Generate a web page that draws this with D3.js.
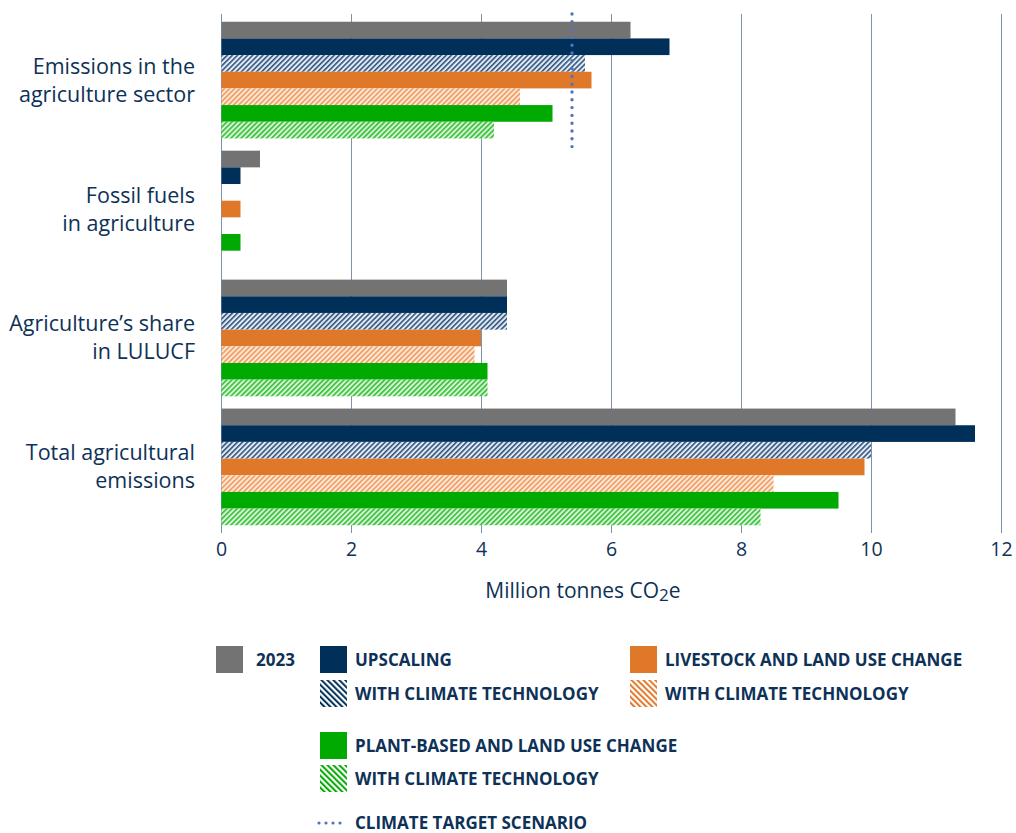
<!DOCTYPE html>
<html>
<head>
<meta charset="utf-8">
<script src="https://cdn.jsdelivr.net/npm/d3@7"></script>
<style>
  html, body { margin: 0; padding: 0; background: #fff; }
  svg { display: block; }
  .cat { font-family: "Open Sans", "Noto Sans", sans-serif; font-size: 21.5px; fill: #0e3157; }
  .tick text { font-family: "Open Sans", "Noto Sans", sans-serif; font-size: 19.5px; fill: #0e3157; }
  .title { font-family: "Open Sans", "Noto Sans", sans-serif; font-size: 21px; fill: #0e3157; }
  .leg { font-family: "Open Sans", "Noto Sans", sans-serif; font-size: 17px; font-weight: 700; fill: #0e3157; }
</style>
</head>
<body>
<svg id="chart" width="1016" height="833"></svg>
<script>
// Emission categories (top to bottom)
const categories = [
  ["Emissions in the", "agriculture sector"],
  ["Fossil fuels", "in agriculture"],
  ["Agriculture\u2019s share", "in LULUCF"],
  ["Total agricultural", "emissions"]
];

// Series, in drawing order inside each category
const seriesKeys = ["y2023", "upscaling", "upscalingTech", "livestock", "livestockTech", "plant", "plantTech"];

const y2023         = [6.3, 0.6, 4.4, 11.3];
const upscaling     = [6.9, 0.3, 4.4, 11.6];
const upscalingTech = [5.6, 0.0, 4.4, 10.0];
const livestock     = [5.7, 0.3, 4.0, 9.9];
const livestockTech = [4.6, 0.0, 3.9, 8.5];
const plant         = [5.1, 0.3, 4.1, 9.5];
const plantTech     = [4.2, 0.0, 4.1, 8.3];

// Climate target scenario for the agriculture sector
const climateTarget = 5.4;

const xTicks = [0, 2, 4, 6, 8, 10, 12];

const values = { y2023, upscaling, upscalingTech, livestock, livestockTech, plant, plantTech };

const colors = {
  gray: "#737373",
  navy: "#00305a",
  orange: "#e07829",
  green: "#00aa00",
  text: "#0e3157",
  grid: "#7d93ad",
  dot: "#5274bd"
};

const style = {
  y2023:         { fill: colors.gray },
  upscaling:     { fill: colors.navy },
  upscalingTech: { pattern: "hatch-navy" },
  livestock:     { fill: colors.orange },
  livestockTech: { pattern: "hatch-orange" },
  plant:         { fill: colors.green },
  plantTech:     { pattern: "hatch-green" }
};

const svg = d3.select("#chart");
const defs = svg.append("defs");

// fine "/" hatching used inside the bars
function barHatch(id, color, bg) {
  const p = defs.append("pattern")
    .attr("id", id).attr("patternUnits", "userSpaceOnUse")
    .attr("width", 3.6).attr("height", 3.6)
    .attr("patternTransform", "rotate(45)");
  p.append("rect").attr("width", 3.6).attr("height", 3.6).attr("fill", bg);
  p.append("rect").attr("x", 0).attr("y", 0).attr("width", 1.6).attr("height", 3.6).attr("fill", color);
}
// coarser "\" hatching used in the legend swatches
function legHatch(id, color) {
  const p = defs.append("pattern")
    .attr("id", id).attr("patternUnits", "userSpaceOnUse")
    .attr("width", 4.2).attr("height", 4.2)
    .attr("patternTransform", "rotate(-45)");
  p.append("rect").attr("width", 4.2).attr("height", 4.2).attr("fill", "#fff");
  p.append("rect").attr("x", 0).attr("y", 0).attr("width", 2).attr("height", 4.2).attr("fill", color);
}
barHatch("hatch-navy", "#2e5582", "#e6ebf1");
barHatch("hatch-orange", "#f09a5c", "#fde9da");
barHatch("hatch-green", "#33c133", "#d8f2d8");
legHatch("leg-navy", colors.navy);
legHatch("leg-orange", colors.orange);
legHatch("leg-green", colors.green);

const x = d3.scaleLinear().domain([0, 12]).range([221, 1001]);

const y0 = d3.scaleBand()
  .domain(d3.range(categories.length))
  .range([14, 533])
  .paddingInner(0.095)
  .paddingOuter(0.06);

const y1 = d3.scaleBand()
  .domain(seriesKeys)
  .range([0, y0.bandwidth()]);

// gridlines and tick labels
const axis = d3.axisBottom(x).tickValues(xTicks).tickSize(0).tickPadding(12).tickFormat(d3.format("d"));
const gx = svg.append("g").attr("transform", "translate(0,530)");
gx.call(axis);
gx.select(".domain").remove();
gx.selectAll(".tick text").attr("dy", "0.71em");

svg.append("g").selectAll("line")
  .data(xTicks)
  .join("line")
  .attr("x1", d => Math.round(x(d)) + 0.5).attr("x2", d => Math.round(x(d)) + 0.5)
  .attr("y1", 14).attr("y2", 533)
  .attr("stroke", colors.grid).attr("stroke-width", 1);

// bars
const groups = svg.append("g").selectAll("g")
  .data(categories)
  .join("g")
  .attr("transform", (d, i) => `translate(0,${y0(i)})`);

groups.each(function(cat, i) {
  d3.select(this).selectAll("rect")
    .data(seriesKeys.filter(k => values[k][i] > 0))
    .join("rect")
    .attr("x", x(0) + 0.5)
    .attr("y", k => y1(k))
    .attr("width", k => x(values[k][i]) - x(0) - 0.5)
    .attr("height", y1.bandwidth())
    .attr("fill", k => style[k].pattern ? `url(#${style[k].pattern})` : style[k].fill);
});

// climate target marker across the first category
svg.append("line")
  .attr("x1", x(climateTarget)).attr("x2", x(climateTarget))
  .attr("y1", 14).attr("y2", y0(0) + y0.bandwidth() + 10)
  .attr("stroke", colors.dot)
  .attr("stroke-width", 3.4)
  .attr("stroke-linecap", "round")
  .attr("stroke-dasharray", "0 7.8");

// category labels
const catLabels = svg.append("g").selectAll("text")
  .data(categories)
  .join("text")
  .attr("class", "cat")
  .attr("text-anchor", "end")
  .attr("x", 195)
  .attr("y", (d, i) => y0(i) + y0.bandwidth() / 2 - 14);
catLabels.selectAll("tspan")
  .data(d => d)
  .join("tspan")
  .attr("x", 195)
  .attr("dy", (d, j) => j === 0 ? "0.35em" : 28)
  .text(d => d);

// axis title
const title = svg.append("text")
  .attr("class", "title")
  .attr("text-anchor", "middle")
  .attr("x", 583).attr("y", 598);
title.append("tspan").text("Million tonnes CO");
title.append("tspan").attr("font-size", 17).attr("dy", 3).text("2");
title.append("tspan").attr("dy", -3).text("e");

// legend
const legendItems = [
  { label: "2023", fill: colors.gray, x: 216, y: 646 },
  { label: "UPSCALING", fill: colors.navy, x: 320, y: 646 },
  { label: "WITH CLIMATE TECHNOLOGY", fill: "url(#leg-navy)", x: 320, y: 680 },
  { label: "LIVESTOCK AND LAND USE CHANGE", fill: colors.orange, x: 630, y: 646 },
  { label: "WITH CLIMATE TECHNOLOGY", fill: "url(#leg-orange)", x: 630, y: 680 },
  { label: "PLANT-BASED AND LAND USE CHANGE", fill: colors.green, x: 320, y: 732 },
  { label: "WITH CLIMATE TECHNOLOGY", fill: "url(#leg-green)", x: 320, y: 765 }
];

const lg = svg.append("g");
const li = lg.selectAll("g")
  .data(legendItems)
  .join("g")
  .attr("transform", d => `translate(${d.x},${d.y})`);
li.append("rect").attr("width", 27).attr("height", 27).attr("fill", d => d.fill);
li.append("text")
  .attr("class", "leg")
  .attr("x", d => d.label === "2023" ? 40 : 35)
  .attr("y", 14)
  .attr("dy", "0.35em")
  .text(d => d.label);

const dotLeg = lg.append("g").attr("transform", "translate(318,823)");
dotLeg.append("line")
  .attr("x1", 1).attr("x2", 28).attr("y1", 0).attr("y2", 0)
  .attr("stroke", colors.dot).attr("stroke-width", 3.2)
  .attr("stroke-linecap", "round").attr("stroke-dasharray", "0 7");
dotLeg.append("text")
  .attr("class", "leg")
  .attr("x", 37).attr("y", 0).attr("dy", "0.35em")
  .text("CLIMATE TARGET SCENARIO");
</script>
</body>
</html>
